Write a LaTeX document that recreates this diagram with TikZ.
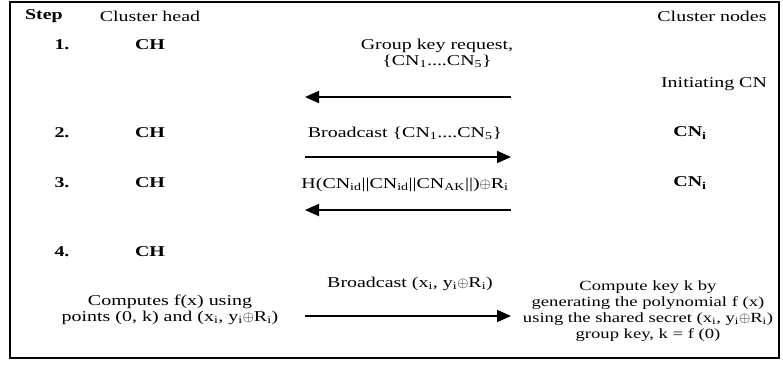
\documentclass[tikz,border=0pt]{standalone}
\usepackage{fontspec}
\setmainfont[FakeStretch=1.33]{Liberation Serif}
\usetikzlibrary{arrows.meta}

\begin{document}
\begin{tikzpicture}[
    x=1pt, y=-1pt,
    font=\fontsize{15}{16}\selectfont,
    txt/.style={inner sep=0pt, align=center},
    bold/.style={txt, font=\fontsize{15}{16}\selectfont\bfseries},
    msg/.style={line width=2pt, -{Triangle[length=14pt, width=12pt]}},
]
\useasboundingbox (0,0) rectangle (783,371);

% Outer frame
\draw[line width=2pt] (10,2) rectangle (779,358);

% Column headers
\node[bold] (step)   at (44, 16)  {Step};
\node[txt]  (chhead) at (150, 16) {Cluster head};
\node[txt]  (cnhead) at (712, 16) {Cluster nodes};

% Step 1: group key request from the initiating CN
\node[bold] (num1) at (62, 45)  {1.};
\node[bold] (ch1)  at (150, 45) {CH};
\node[txt]  (req1) at (437, 53) {Group key request,\\\{CN\textsubscript{1}....CN\textsubscript{5}\}};
\node[txt]  (init1) at (714, 84) {Initiating CN};
\coordinate (a1s) at (511, 97);
\coordinate (a1e) at (305, 97);
\draw[msg] (a1s) -- (a1e);

% Step 2: CH broadcasts the member list
\node[bold] (num2) at (62, 133)  {2.};
\node[bold] (ch2)  at (150, 133) {CH};
\node[txt]  (bc2)  at (405, 133) {Broadcast \{CN\textsubscript{1}....CN\textsubscript{5}\}};
\node[bold] (cn2)  at (690, 133) {CN\textsubscript{i}};
\coordinate (a2s) at (305, 157);
\coordinate (a2e) at (511, 157);
\draw[msg] (a2s) -- (a2e);

% Step 3: hashed reply from each CN
\node[bold] (num3) at (62, 183)  {3.};
\node[bold] (ch3)  at (150, 183) {CH};
\node[txt]  (hash3) at (405, 185) {H(CN\textsubscript{id}||CN\textsubscript{id}||CN\textsubscript{AK}||)$\oplus$R\textsubscript{i}};
\node[bold] (cn3)  at (690, 183) {CN\textsubscript{i}};
\coordinate (a3s) at (511, 210);
\coordinate (a3e) at (305, 210);
\draw[msg] (a3s) -- (a3e);

% Step 4: shares sent out, key rebuilt at the CNs
\node[bold] (num4) at (62, 252)  {4.};
\node[bold] (ch4)  at (150, 252) {CH};
\node[txt]  (comp4) at (170, 310) {Computes f(x) using\\points (0, k) and (x\textsubscript{i}, y\textsubscript{i}$\oplus$R\textsubscript{i})};
\node[txt]  (bc4)  at (410, 284) {Broadcast (x\textsubscript{i}, y\textsubscript{i}$\oplus$R\textsubscript{i})};
\coordinate (a4s) at (305, 316);
\coordinate (a4e) at (511, 316);
\draw[msg] (a4s) -- (a4e);
\node[txt, font=\fontsize{14}{16}\selectfont] (key4) at (648, 311) {Compute key k by\\generating the polynomial f (x)\\using the shared secret (x\textsubscript{i}, y\textsubscript{i}$\oplus$R\textsubscript{i})\\group key, k = f (0)};

\end{tikzpicture}
\end{document}
